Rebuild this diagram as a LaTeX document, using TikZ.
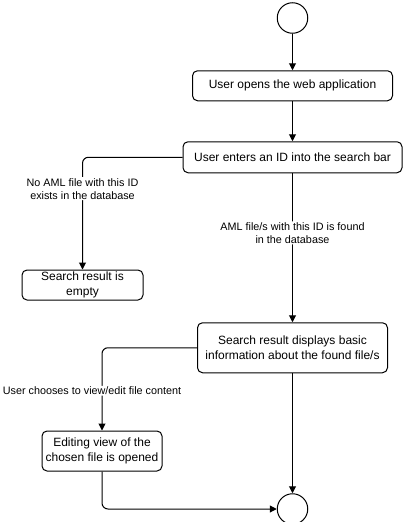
\documentclass[tikz,border=0pt]{standalone}
\usepackage{fontspec}
\setmainfont{Liberation Sans}
\usetikzlibrary{positioning, arrows.meta}

\begin{document}
\begin{tikzpicture}[x=1pt, y=1pt, line width=1pt,
        box/.style={draw, rounded corners=5pt, align=center, inner sep=0pt,
                    font=\fontsize{12}{15}\selectfont},
        state/.style={draw, circle, minimum size=30.5pt, inner sep=0pt},
        lbl/.style={fill=white, align=center, inner sep=1pt,
                    font=\fontsize{10.8}{13}\selectfont},
        flow/.style={-{Triangle[length=7pt, width=7pt]}, rounded corners=6pt}]
    \useasboundingbox (0,0) rectangle (403,-522);

    \node[state] at (292.5,-18)                                             (start)  {};
    \node[box, minimum width=200pt, minimum height=30pt, below=36.5pt of start] (open)   {User opens the web application};
    \node[box, minimum width=219pt, minimum height=31pt, below=40pt of open]    (enter)  {User enters an ID into the search bar};
    \node[box, minimum width=190pt, minimum height=50pt, below=149pt of enter]  (found)  {Search result displays basic\\information about the found file/s};
    \node[state, below=120pt of found]                                      (end)    {};
    \node[box, minimum width=121pt, minimum height=30pt] at (82.5,-285)     (empty)  {Search result is\\empty};
    \node[box, minimum width=120pt, minimum height=40pt] at (102,-451)      (edit)   {Editing view of the\\chosen file is opened};

    \draw[flow] (start) -- (open);
    \draw[flow] (open)  -- (enter);
    \draw[flow] (enter) -- node[lbl, pos=0.4] {AML file/s with this ID is found\\in the database} (found);
    \draw[flow] (enter) -| node[lbl, pos=0.64] {No AML file with this ID\\exists in the database} (empty);
    \draw[flow] (found) -- (end);
    \draw[flow] (found) -| node[lbl, pos=0.76, xshift=-10pt] {User chooses to view/edit file content} (edit);
    \draw[flow] (edit)  |- (end);
\end{tikzpicture}
\end{document}
